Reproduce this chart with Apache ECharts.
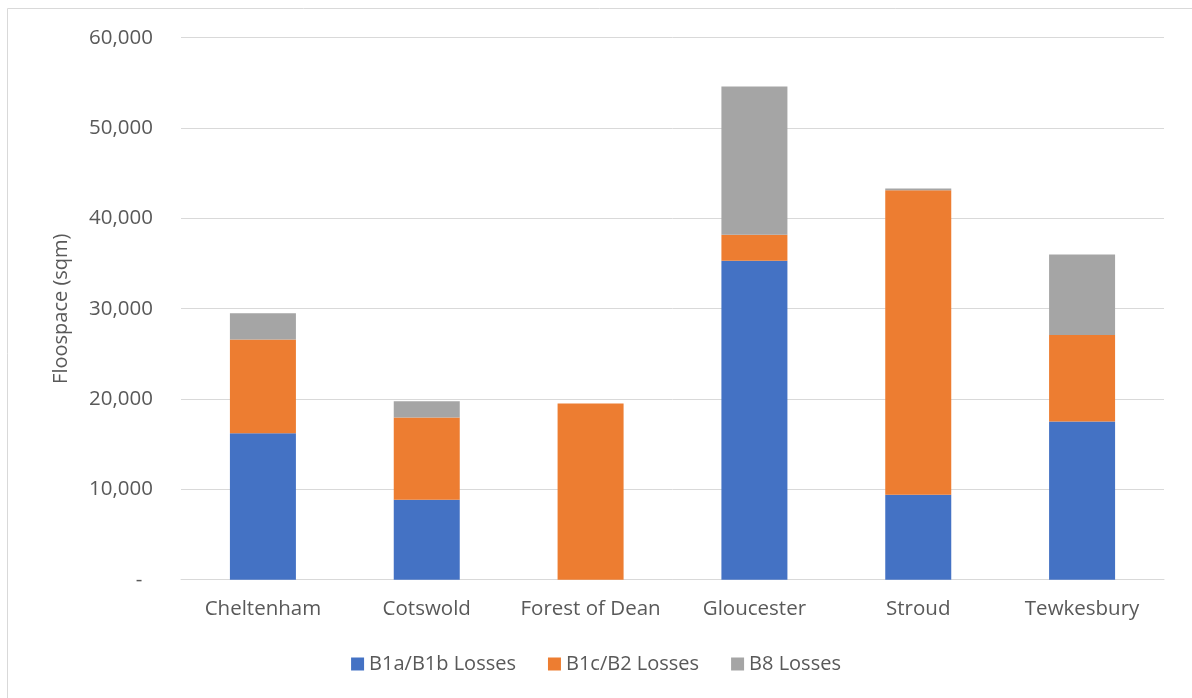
<!DOCTYPE html>
<html>
<head>
<meta charset="utf-8">
<script src="https://cdn.jsdelivr.net/npm/echarts@6/dist/echarts.min.js"></script>
<style>
  html, body { margin: 0; padding: 0; background: #fff; }
  #main { width: 1192px; height: 698px; }
</style>
</head>
<body>
<div id="main"></div>
<script>
// districts and floorspace losses (sqm)
var districts = ['Cheltenham', 'Cotswold', 'Forest of Dean', 'Gloucester', 'Stroud', 'Tewkesbury'];
var b1aLosses = [16200, 8850, 0, 35300, 9400, 17500];
var b1cLosses = [10400, 9100, 19500, 2900, 33700, 9600];
var b8Losses = [2900, 1800, 0, 16400, 200, 8900];

var fontFam = '"Open Sans", sans-serif';
var textCol = '#595959';

var mychart = echarts.init(document.getElementById('main'));

option = {
    animation: false,
    textStyle: { fontFamily: fontFam },
    graphic: [
        // chart frame (only left and top edges visible)
        { type: 'line', shape: { x1: 7.5, y1: 8.5, x2: 1192, y2: 8.5 }, style: { stroke: '#d9d9d9', lineWidth: 1 } },
        { type: 'line', shape: { x1: 7.5, y1: 8.5, x2: 7.5, y2: 698 }, style: { stroke: '#d9d9d9', lineWidth: 1 } }
    ],
    grid: {
        left: 181,
        right: 28,
        top: 37.7,
        bottom: 118.3
    },
    legend: {
        bottom: 19,
        left: 'center',
        itemWidth: 13,
        itemHeight: 13,
        itemGap: 32,
        icon: 'rect',
        textStyle: { color: textCol, fontSize: 20, fontFamily: fontFam },
        data: ['B1a/B1b Losses', 'B1c/B2 Losses', 'B8 Losses']
    },
    xAxis: {
        type: 'category',
        data: districts,
        axisLine: { lineStyle: { color: '#d9d9d9', width: 1 } },
        axisTick: { show: false },
        axisLabel: { color: textCol, fontSize: 20.5, margin: 19, interval: 0 }
    },
    yAxis: {
        type: 'value',
        min: 0,
        max: 60000,
        interval: 10000,
        name: 'Floospace (sqm)',
        nameLocation: 'middle',
        nameGap: 110,
        nameTextStyle: { color: textCol, fontSize: 20 },
        axisLine: { show: false },
        axisTick: { show: false },
        splitLine: { lineStyle: { color: '#d9d9d9', width: 1 } },
        axisLabel: {
            color: textCol,
            fontSize: 20.5,
            margin: 28,
            formatter: function (v) {
                if (v === 0) return '-  ';
                return v.toLocaleString('en-US');
            }
        }
    },
    series: [
        {
            name: 'B1a/B1b Losses',
            type: 'bar',
            stack: 'loss',
            barWidth: 66,
            itemStyle: { color: '#4472c4' },
            data: b1aLosses
        },
        {
            name: 'B1c/B2 Losses',
            type: 'bar',
            stack: 'loss',
            barWidth: 66,
            itemStyle: { color: '#ed7d31' },
            data: b1cLosses
        },
        {
            name: 'B8 Losses',
            type: 'bar',
            stack: 'loss',
            barWidth: 66,
            itemStyle: { color: '#a5a5a5' },
            data: b8Losses
        }
    ]
};
mychart.setOption(option);
</script>
</body>
</html>
